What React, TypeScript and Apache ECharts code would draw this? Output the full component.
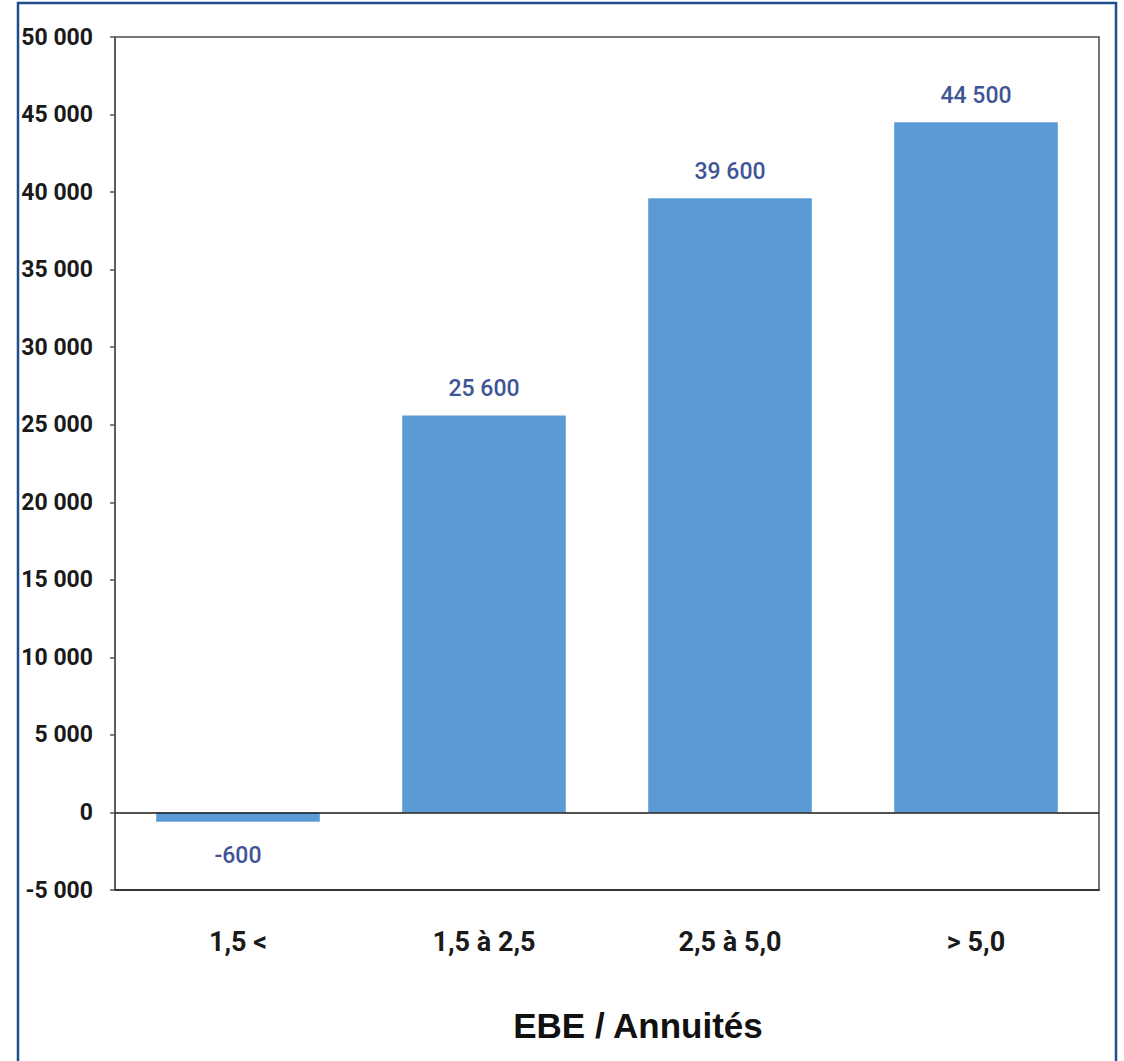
import React, { useEffect, useRef } from "react";
import * as echarts from "echarts";

const categories = ["1,5 <", "1,5 à 2,5", "2,5 à 5,0", "> 5,0"];
const values = [-600, 25600, 39600, 44500];
const yMin = -5000;
const yMax = 50000;
const yStep = 5000;
const axisTitle = "EBE / Annuités";

const narrow = 'Roboto, "Liberation Sans", sans-serif';

function fmt(v: number): string {
  const s = Math.abs(v).toString().replace(/\B(?=(\d{3})+(?!\d))/g, " ");
  return (v < 0 ? "-" : "") + s;
}

export default function App() {
  const ref = useRef<HTMLDivElement>(null);
  useEffect(() => {
    document.body.style.margin = "0";
    if (!ref.current) return;
    const chart = echarts.init(ref.current, undefined, { renderer: "svg" });
    chart.setOption({
      animation: false,
      backgroundColor: "#ffffff",
      grid: {
        left: 115,
        right: 25,
        top: 37,
        bottom: 171,
        show: true,
        borderColor: "#4a4a4a",
        borderWidth: 1.5,
        backgroundColor: "transparent",
      },
      xAxis: {
        type: "category",
        data: categories,
        axisLine: { onZero: false, lineStyle: { color: "#222", width: 1.5 } },
        axisTick: { show: false },
        axisLabel: {
          margin: 38,
          fontFamily: narrow,
          fontWeight: "bold",
          fontSize: 27,
          color: "#1a1a1a",
        },
      },
      yAxis: {
        type: "value",
        min: yMin,
        max: yMax,
        interval: yStep,
        splitLine: { show: false },
        axisLine: { show: true, lineStyle: { color: "#555", width: 1.5 } },
        axisTick: { show: true, inside: false, length: 5, lineStyle: { color: "#555", width: 1.5 } },
        axisLabel: {
          margin: 22,
          fontFamily: narrow,
          fontWeight: "bold",
          fontSize: 23,
          color: "#1a1a1a",
          formatter: (v: number) => fmt(v),
        },
      },
      series: [
        {
          type: "bar",
          barWidth: "66.5%",
          data: values.map((v) =>
            v < 0
              ? { value: v, label: { position: "bottom", distance: 22 } }
              : { value: v }
          ),
          itemStyle: { color: "#5B9BD5" },
          label: {
            show: true,
            position: "top",
            distance: 15,
            fontFamily: narrow,
            fontWeight: 500,
            fontSize: 23,
            color: "#3F5597",
            formatter: (p: any) => fmt(p.value),
          },
          markLine: {
            silent: true,
            symbol: "none",
            label: { show: false },
            lineStyle: { color: "#1a1a1a", width: 1.5, type: "solid" },
            data: [{ yAxis: 0 }],
            z: 5,
          },
        },
      ],
      graphic: [
        {
          type: "rect",
          shape: { x: 18, y: 3, width: 1098, height: 1080 },
          style: { fill: "none", stroke: "#1F4E8C", lineWidth: 2.5 },
          silent: true,
        },
        {
          type: "text",
          x: 638,
          y: 1025,
          style: {
            text: axisTitle,
            font: 'bold 35px "Liberation Sans", Arial, sans-serif',
            fill: "#111",
            textAlign: "center",
            textVerticalAlign: "middle",
          },
        },
      ],
    });
    return () => chart.dispose();
  }, []);
  return <div ref={ref} style={{ width: 1124, height: 1061 }} />;
}
